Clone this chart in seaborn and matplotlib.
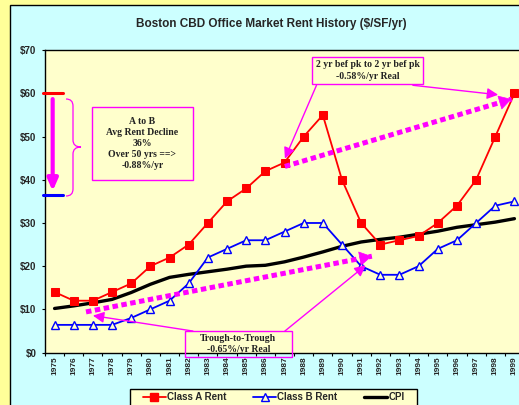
import matplotlib
matplotlib.use("Agg")
import matplotlib.pyplot as plt
import seaborn as sns
import pandas as pd
from matplotlib.patches import Rectangle, PathPatch
from matplotlib.path import Path
from matplotlib.transforms import Affine2D
from matplotlib.lines import Line2D

# ---------------- data ----------------
years = list(range(1975, 2000))
class_a = [14, 12, 12, 14, 16, 20, 22, 25, 30, 35, 38, 42, 44, 50, 55, 40, 30, 25, 26, 27, 30, 34, 40, 50, 60]
class_b = [6.4, 6.4, 6.4, 6.4, 8, 10, 12, 16, 22, 24, 26, 26, 28, 30, 30, 25, 20, 18, 18, 20, 24, 26, 30, 34, 35]
cpi = [10.2, 10.8, 11.5, 12.3, 13.9, 15.8, 17.4, 18.1, 18.7, 19.3, 20.0, 20.2, 21.0, 22.1, 23.3, 24.6,
       25.6, 26.2, 26.7, 27.4, 28.1, 29.0, 29.6, 30.2, 31.0]
y_ticks = [0, 10, 20, 30, 40, 50, 60, 70]
y_tick_labels = ["$0", "$10", "$20", "$30", "$40", "$50", "$60", "$70"]
series_names = ["Class A Rent", "Class B Rent", "CPI"]

# trend / annotation anchors (data units)
trough_trend_x = [1976.64, 1991.56]
trough_trend_y = [9.4, 22.3]
peak_trend_x = [1987.02, 1998.85]
peak_trend_y = [43.1, 58.7]
a_level = 60
b_level = 36.4

title = "Boston CBD Office Market Rent History ($/SF/yr)"
box_ab_text = "A to B\nAvg Rent Decline\n36%\nOver 50 yrs ==>\n-0.88%/yr"
box_peak_text = "2 yr bef pk to 2 yr bef pk\n-0.58%/yr Real"
box_trough_text = "Trough-to-Trough\n-0.65%/yr Real"

# ---------------- styling ----------------
W, H = 519, 405
sns.set_theme(style="white")
plt.rcParams["font.family"] = ["Liberation Sans", "DejaVu Sans"]

MAG = "#FF00FF"
fig = plt.figure(figsize=(W / 100, H / 100), dpi=100, facecolor="#FFFF99")
P = Affine2D().scale(1 / W, -1 / H).translate(0, 1) + fig.transFigure  # pixel (from top) transform

# chart area
fig.patches.append(Rectangle((10, 5), 540, 430, transform=P, facecolor="#CCFFFF",
                             edgecolor="black", lw=1, zorder=-10))

ax = fig.add_axes([45 / W, 1 - 352.5 / H, (524 - 45) / W, (352.5 - 50.3) / H])
ax.set_facecolor("#FFFFCC")

df = pd.DataFrame({"year": years, "A": class_a, "B": class_b, "CPI": cpi})
sns.lineplot(data=df, x="year", y="CPI", ax=ax, color="black", lw=2.4, zorder=2)
sns.lineplot(data=df, x="year", y="B", ax=ax, color="#0000FF", lw=1.3, marker="^", markersize=6,
             markerfacecolor="#FFFFCC", markeredgecolor="#0000FF", markeredgewidth=1.0, zorder=3)
sns.lineplot(data=df, x="year", y="A", ax=ax, color="#FF0000", lw=1.3, marker="s", markersize=5.5,
             markeredgecolor="#FF0000", zorder=4)

ax.set_xlim(1974.5, 1999.5)
ax.set_ylim(0, 70)
ax.set_xlabel("")
ax.set_ylabel("")
ax.set_xticks(years)
ax.set_xticklabels([str(y) for y in years], rotation=90, fontsize=6, fontweight="bold")
ax.set_xticks([y - 0.5 for y in years] + [1999.5], minor=True)
ax.set_yticks(y_ticks)
ax.set_yticklabels(y_tick_labels, fontsize=7, fontweight="bold")
ax.tick_params(axis="x", which="major", length=0, pad=3)
ax.tick_params(axis="x", which="minor", length=2.5, width=0.8, direction="out", color="black", bottom=True)
ax.tick_params(axis="y", length=2.2, width=0.8, direction="out", color="black", pad=4, left=True)
for s in ax.spines.values():
    s.set_color("black")
    s.set_linewidth(1)

# title
fig.text(271 / W, 1 - 24 / H, title, ha="center", va="center", fontsize=8.5, fontweight="bold")

# dotted trend arrows
def dotted_arrow(xs, ys):
    ax.plot(xs, ys, color=MAG, lw=3.6, linestyle=(0, (1.1, 0.7)), dash_capstyle="butt", zorder=5)
    dx, dy = xs[1] - xs[0], ys[1] - ys[0]
    ax.annotate("", xy=(xs[1], ys[1]), xytext=(xs[1] - dx * 0.04, ys[1] - dy * 0.04),
                arrowprops=dict(arrowstyle="-|>,head_length=0.55,head_width=0.32", color=MAG, lw=0.5,
                                mutation_scale=15, shrinkA=0, shrinkB=0), zorder=6)

dotted_arrow(trough_trend_x, trough_trend_y)
dotted_arrow(peak_trend_x, peak_trend_y)

# thin arrows from boxes
thin = dict(arrowstyle="-|>,head_length=0.6,head_width=0.3", color=MAG, lw=1.0,
            mutation_scale=11, shrinkA=0, shrinkB=0)
ax.annotate("", xy=(1987.02, 44.9), xytext=(1988.67, 61.9), arrowprops=thin, annotation_clip=False, zorder=6)
ax.annotate("", xy=(1998.15, 59.7), xytext=(1993.70, 61.9), arrowprops=thin, annotation_clip=False, zorder=6)
ax.annotate("", xy=(1977.0, 8.55), xytext=(1982.22, 4.97), arrowprops=thin, annotation_clip=False, zorder=6)
ax.annotate("", xy=(1991.24, 20.2), xytext=(1987.02, 4.97), arrowprops=thin, annotation_clip=False, zorder=6)

# A to B markers
ax.plot([1974.39, 1975.42], [a_level, a_level], color="#FF0000", lw=2.2, clip_on=False, zorder=6)
ax.plot([1974.39, 1975.42], [b_level, b_level], color="#0000FF", lw=2.2, clip_on=False, zorder=6)
ax.annotate("", xy=(1974.90, 37.4), xytext=(1974.90, 58.7),
            arrowprops=dict(arrowstyle="-|>,head_length=0.5,head_width=0.22", color=MAG, lw=3,
                            mutation_scale=14, shrinkA=0, shrinkB=0), annotation_clip=False, zorder=6)

# brace (pixel coords)
verts = [(66, 99), (73, 99), (73, 106),
         (73, 140),
         (73, 147), (81, 147),
         (73, 147), (73, 154),
         (73, 189),
         (73, 196), (66, 196)]
codes = [Path.MOVETO, Path.CURVE3, Path.CURVE3, Path.LINETO, Path.CURVE3, Path.CURVE3,
         Path.CURVE3, Path.CURVE3, Path.LINETO, Path.CURVE3, Path.CURVE3]
fig.patches.append(PathPatch(Path(verts, codes), transform=P, facecolor="none", edgecolor=MAG, lw=0.9, zorder=7))

# text boxes
serif = ["Liberation Serif", "DejaVu Serif"]
TXT = "#222222"
def text_box(x0, y0, x1, y1, text):
    fig.patches.append(Rectangle((x0, y0), x1 - x0, y1 - y0, transform=P, facecolor="#FFFFCC",
                                 edgecolor=MAG, lw=1.0, zorder=8))
    fig.text((x0 + x1) / 2 / W, 1 - ((y0 + y1) / 2) / H, text, ha="center", va="center",
             fontsize=7, fontweight="bold", family=serif, color=TXT, linespacing=1.3, zorder=9)

text_box(91.7, 107.3, 193.3, 180, box_ab_text)
text_box(312.3, 56.7, 422.7, 84.3, box_peak_text)

# trough box: lives in the axes so the text is clipped at the x axis
tx0, ty0, tx1, ty1 = 185, 331, 291.7, 356.7
ax.add_patch(Rectangle((tx0, ty0), tx1 - tx0, ty1 - ty0, transform=P, facecolor="none",
                       edgecolor=MAG, lw=1.0, zorder=8, clip_on=False))
ax.text((tx0 + tx1) / 2, 344.2, box_trough_text, transform=P, ha="center", va="center",
        fontsize=7, fontweight="bold", family=serif, color=TXT, linespacing=1.3, zorder=9, clip_on=True)

# legend
fig.patches.append(Rectangle((130, 389), 287, 30, transform=P, facecolor="#FFFFCC",
                             edgecolor="black", lw=1, zorder=1))
handles = [
    Line2D([], [], color="#FF0000", lw=1.3, marker="s", markersize=5.5),
    Line2D([], [], color="#0000FF", lw=1.3, marker="^", markersize=6, markerfacecolor="#FFFFCC"),
    Line2D([], [], color="black", lw=2.4),
]
leg = fig.legend(handles, series_names, ncol=3, loc="center left",
                 bbox_to_anchor=(143 / W, 1 - 397 / H), frameon=False, borderpad=0, borderaxespad=0,
                 handlelength=2.36, handletextpad=0.15, columnspacing=2.7,
                 prop=dict(size=7, weight="bold", family=["Liberation Sans", "DejaVu Sans"]))
leg.set_zorder(2)

fig.savefig("out.png", dpi=100, facecolor=fig.get_facecolor())
